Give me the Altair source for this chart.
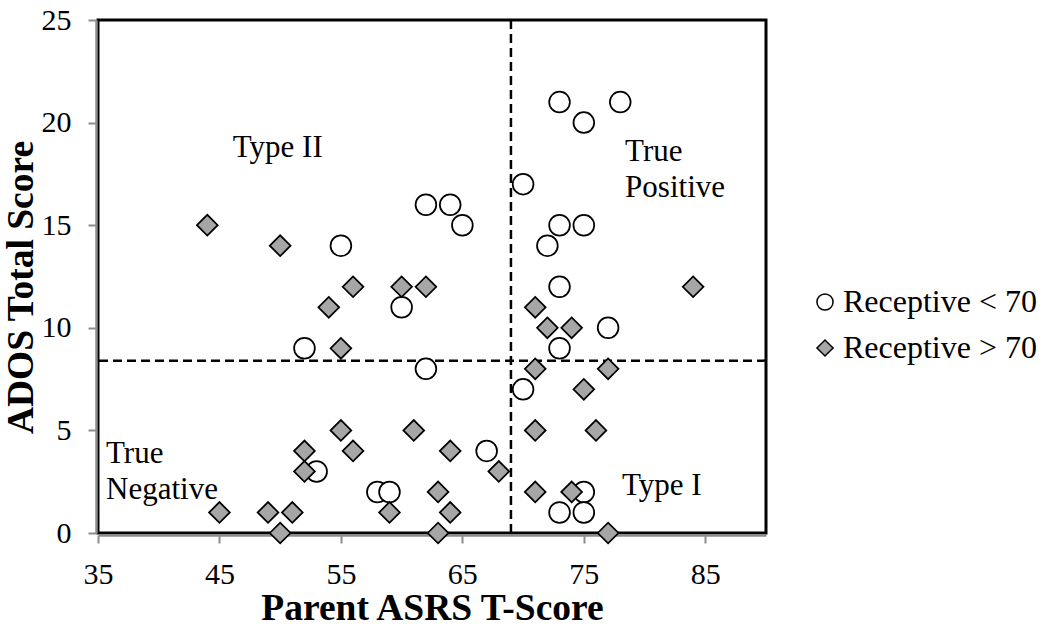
import altair as alt
import pandas as pd

FONT = "Liberation Serif"

# Children with receptive language score below 70 (open circles)
low_asrs = [73, 78, 75, 70, 62, 64, 65, 55, 73, 75, 72, 60, 73, 52, 62, 73, 77, 70, 67, 53, 58, 59, 75, 73, 75]
low_ados = [21, 21, 20, 17, 16, 16, 15, 14, 15, 15, 14, 11, 12, 9, 8, 9, 10, 7, 4, 3, 2, 2, 2, 1, 1]

# Children with receptive language score above 70 (grey diamonds)
high_asrs = [44, 50, 56, 60, 62, 54, 55, 55, 56, 61, 52, 52, 45, 49, 51, 50, 59,
             84, 71, 72, 74, 71, 77, 75, 71, 76, 64, 68, 63, 64, 63, 71, 74, 77]
high_ados = [15, 14, 12, 12, 12, 11, 9, 5, 4, 5, 4, 3, 1, 1, 1, 0, 1,
             12, 11, 10, 10, 8, 8, 7, 5, 5, 4, 3, 2, 1, 0, 2, 2, 0]

groups = ["Receptive < 70", "Receptive > 70"]

x_ticks = [35, 45, 55, 65, 75, 85]
y_ticks = [0, 5, 10, 15, 20, 25]

# Screening cut-offs
asrs_cut = 69
ados_cut = 8.4

# Quadrant labels (left edge / first-line baseline, in data units)
quad_text = ["Type II", "True\nPositive", "True\nNegative", "Type I"]
quad_asrs = [46.1, 78.4, 35.66, 78.15]
quad_ados = [18.3, 18.13, 3.41, 1.85]

points_df = pd.DataFrame({
    "asrs": low_asrs + high_asrs,
    "ados": low_ados + high_ados,
    "group": [groups[0]] * len(low_asrs) + [groups[1]] * len(high_asrs),
})
quad_df = pd.DataFrame({"asrs": quad_asrs, "ados": quad_ados, "label": quad_text})
vcut_df = pd.DataFrame({"asrs": [asrs_cut]})
hcut_df = pd.DataFrame({"ados": [ados_cut]})

xscale = alt.Scale(domain=[35, 90], nice=False, zero=False)
yscale = alt.Scale(domain=[0, 25], nice=False, zero=True)

x_enc = alt.X("asrs:Q", scale=xscale, title="Parent ASRS T-Score",
              axis=alt.Axis(values=x_ticks, labelPadding=16, labelFlush=False, titleY=84,
                            titleBaseline="alphabetic"))
y_enc = alt.Y("ados:Q", scale=yscale, title="ADOS Total Score",
              axis=alt.Axis(values=y_ticks, labelPadding=17, labelFlush=False, titleX=-64, titleY=267,
                            titleBaseline="alphabetic", titleAlign="center"))

vcut = alt.Chart(vcut_df).mark_rule(color="black", strokeWidth=2.5, strokeDash=[9, 5]).encode(
    x=alt.X("asrs:Q", scale=xscale)
)
hcut = alt.Chart(hcut_df).mark_rule(color="black", strokeWidth=2.5, strokeDash=[9, 5]).encode(
    y=alt.Y("ados:Q", scale=yscale)
)

quads = alt.Chart(quad_df).mark_text(
    align="left", baseline="alphabetic", font=FONT, fontSize=31, color="black",
    lineBreak="\n", lineHeight=36
).encode(
    x=alt.X("asrs:Q", scale=xscale),
    y=alt.Y("ados:Q", scale=yscale),
    text="label:N",
)

legend = alt.Legend(
    title=None, orient="none", legendX=711, legendY=266,
    labelFont=FONT, labelFontSize=32, labelColor="black", labelOffset=2,
    labelLimit=400,
    symbolSize=260, symbolStrokeColor="black", symbolStrokeWidth=1.5,
    rowPadding=14,
)

points = alt.Chart(points_df).mark_point(
    filled=True, size=430, strokeWidth=1.75, opacity=1
).encode(
    x=x_enc,
    y=y_enc,
    shape=alt.Shape("group:N", scale=alt.Scale(domain=groups, range=["circle", "diamond"]), legend=legend),
    fill=alt.Fill("group:N", scale=alt.Scale(domain=groups, range=["white", "#a6a6a6"]), legend=legend),
    stroke=alt.Stroke("group:N", scale=alt.Scale(domain=groups, range=["black", "black"]), legend=legend),
)

chart = alt.layer(vcut, hcut, quads, points).properties(
    width=668, height=513,
    padding={"left": 98, "top": 20, "right": 282, "bottom": 99},
    autosize="none",
).configure_axis(
    labelFont=FONT, titleFont=FONT, labelFontSize=30, titleFontSize=37.5,
    titleFontWeight="bold", labelColor="black", titleColor="black",
    grid=False, domainColor="#8c8c8c", domainWidth=2.5, tickColor="#8c8c8c",
    tickWidth=2, tickSize=8, offset=2,
).configure_view(stroke="black", strokeWidth=3)

chart.save("out.html", embed_options={"renderer": "svg", "actions": False})
